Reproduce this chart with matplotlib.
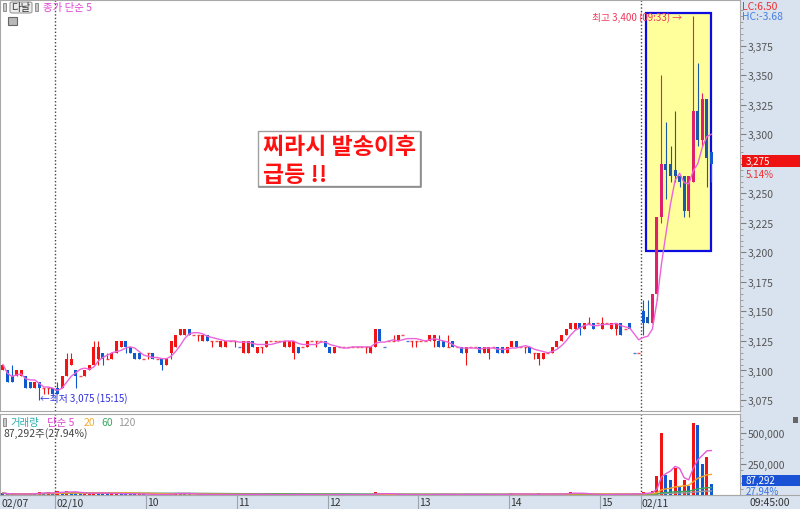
import matplotlib
matplotlib.use("Agg")
import matplotlib.pyplot as plt
import matplotlib.patches as mpatches
from matplotlib.lines import Line2D
from matplotlib.transforms import blended_transform_factory
import numpy as np
import pandas as pd

plt.rcParams['font.family'] = ['Noto Sans CJK KR', 'DejaVu Sans']

# 3-minute candles: tail of 02/07, full session 02/10, 02/11 09:00~09:45
opens = [
    3100, 3100, 3095, 3095, 3095, 3095, 3090, 3085, 3090, 3085,
    3085, 3085, 3085, 3085, 3095, 3105, 3100, 3095, 3095, 3100,
    3105, 3110, 3115, 3110, 3110, 3115, 3120, 3125, 3120, 3115,
    3115, 3110, 3115, 3115, 3110, 3110, 3105, 3115, 3120, 3130,
    3130, 3135, 3130, 3130, 3125, 3130, 3125, 3125, 3120, 3120,
    3125, 3125, 3120, 3115, 3115, 3125, 3115, 3120, 3120, 3125,
    3125, 3125, 3120, 3120, 3115, 3120, 3120, 3120, 3125, 3125,
    3125, 3125, 3120, 3115, 3120, 3120, 3120, 3120, 3120, 3120,
    3120, 3115, 3120, 3135, 3120, 3125, 3125, 3125, 3130, 3125,
    3125, 3125, 3125, 3125, 3125, 3125, 3125, 3125, 3120, 3125,
    3120, 3120, 3115, 3120, 3120, 3120, 3115, 3115, 3120, 3120,
    3120, 3115, 3120, 3125, 3120, 3120, 3120, 3115, 3110, 3110,
    3115, 3115, 3120, 3125, 3130, 3135, 3135, 3140, 3135, 3140,
    3140, 3140, 3135, 3140, 3135, 3135, 3140, 3135, 3140, 3115,
    3115, 3150, 3145, 3140, 3165, 3230, 3275, 3275, 3270, 3265,
    3265, 3235, 3260, 3320, 3295, 3330, 3285,
]
highs = [
    3105, 3100, 3105, 3100, 3100, 3095, 3090, 3090, 3090, 3085,
    3085, 3085, 3090, 3095, 3115, 3115, 3100, 3095, 3100, 3105,
    3125, 3125, 3115, 3115, 3115, 3125, 3125, 3125, 3120, 3115,
    3115, 3110, 3115, 3115, 3110, 3110, 3110, 3125, 3130, 3135,
    3135, 3135, 3130, 3130, 3130, 3130, 3125, 3125, 3125, 3125,
    3125, 3125, 3120, 3125, 3125, 3125, 3120, 3120, 3125, 3125,
    3125, 3125, 3125, 3125, 3125, 3120, 3120, 3125, 3125, 3125,
    3125, 3125, 3120, 3120, 3120, 3120, 3120, 3120, 3120, 3120,
    3120, 3120, 3135, 3135, 3120, 3125, 3130, 3130, 3130, 3125,
    3125, 3125, 3125, 3125, 3130, 3130, 3130, 3125, 3130, 3125,
    3120, 3120, 3120, 3120, 3120, 3120, 3120, 3120, 3120, 3120,
    3120, 3120, 3125, 3125, 3120, 3120, 3120, 3115, 3115, 3115,
    3115, 3120, 3125, 3130, 3135, 3140, 3140, 3140, 3140, 3145,
    3140, 3140, 3145, 3140, 3140, 3140, 3140, 3135, 3140, 3115,
    3115, 3160, 3160, 3165, 3230, 3350, 3310, 3290, 3320, 3265,
    3265, 3265, 3400, 3360, 3335, 3330, 3285,
]
lows = [
    3100, 3090, 3090, 3095, 3095, 3085, 3085, 3085, 3075, 3080,
    3080, 3080, 3080, 3085, 3095, 3105, 3085, 3095, 3095, 3100,
    3105, 3105, 3105, 3110, 3110, 3115, 3120, 3115, 3115, 3110,
    3110, 3110, 3110, 3110, 3110, 3100, 3105, 3110, 3120, 3130,
    3130, 3130, 3130, 3125, 3125, 3125, 3120, 3125, 3120, 3120,
    3125, 3120, 3120, 3115, 3115, 3120, 3115, 3115, 3120, 3125,
    3125, 3125, 3120, 3120, 3110, 3115, 3120, 3120, 3125, 3120,
    3125, 3120, 3115, 3115, 3120, 3120, 3120, 3120, 3120, 3120,
    3115, 3115, 3120, 3125, 3120, 3125, 3125, 3125, 3130, 3125,
    3120, 3120, 3125, 3125, 3125, 3120, 3120, 3120, 3120, 3120,
    3120, 3115, 3105, 3120, 3120, 3115, 3115, 3110, 3120, 3115,
    3115, 3115, 3120, 3120, 3120, 3115, 3115, 3110, 3105, 3110,
    3115, 3115, 3120, 3125, 3130, 3135, 3135, 3130, 3135, 3140,
    3135, 3140, 3135, 3140, 3135, 3130, 3130, 3135, 3135, 3115,
    3115, 3130, 3140, 3140, 3160, 3225, 3245, 3260, 3260, 3255,
    3230, 3230, 3260, 3290, 3290, 3255, 3260,
]
closes = [
    3105, 3090, 3090, 3100, 3100, 3085, 3085, 3090, 3085, 3085,
    3085, 3080, 3080, 3095, 3110, 3110, 3095, 3095, 3100, 3105,
    3120, 3120, 3110, 3110, 3115, 3125, 3125, 3120, 3115, 3110,
    3110, 3110, 3115, 3110, 3110, 3105, 3110, 3125, 3130, 3135,
    3135, 3130, 3130, 3130, 3130, 3125, 3125, 3125, 3125, 3125,
    3125, 3125, 3120, 3125, 3125, 3120, 3120, 3120, 3125, 3125,
    3125, 3125, 3125, 3125, 3125, 3115, 3120, 3125, 3125, 3125,
    3125, 3120, 3115, 3120, 3120, 3120, 3120, 3120, 3120, 3120,
    3120, 3120, 3135, 3125, 3120, 3125, 3125, 3130, 3130, 3125,
    3125, 3125, 3125, 3125, 3130, 3130, 3120, 3120, 3120, 3120,
    3120, 3115, 3120, 3120, 3120, 3115, 3120, 3120, 3120, 3115,
    3115, 3120, 3125, 3120, 3120, 3120, 3115, 3115, 3115, 3115,
    3115, 3120, 3125, 3130, 3135, 3140, 3140, 3135, 3140, 3140,
    3135, 3140, 3140, 3140, 3140, 3140, 3130, 3135, 3135, 3115,
    3115, 3140, 3140, 3165, 3230, 3275, 3270, 3265, 3265, 3260,
    3235, 3265, 3320, 3295, 3330, 3280, 3275,
]
volumes = [
    15000, 6000, 8000, 5000, 4000, 18000, 12000, 9000, 22000, 16000,
    24000, 9000, 30000, 26000, 35000, 22000, 14000, 9000, 12000, 15000,
    25000, 18000, 9000, 6000, 8000, 16000, 12000, 10000, 7000, 6000,
    9000, 5000, 4000, 3000, 2000, 6000, 8000, 14000, 20000, 12000,
    10000, 6000, 3000, 2000, 7000, 5000, 3000, 2000, 6000, 4000,
    2000, 3000, 2000, 9000, 7000, 3000, 5000, 2000, 4000, 2000,
    1000, 1000, 3000, 5000, 8000, 4000, 2000, 3000, 1000, 2000,
    1000, 4000, 5000, 1000, 1000, 2000, 1000, 1000, 2000, 1000,
    1000, 3000, 25000, 18000, 4000, 2000, 2000, 6000, 2000, 1000,
    2000, 3000, 2000, 1000, 5000, 6000, 7000, 4000, 2000, 3000,
    1000, 6000, 12000, 2000, 1000, 4000, 3000, 7000, 2000, 5000,
    4000, 3000, 20000, 9000, 2000, 3000, 5000, 6000, 14000, 8000,
    2000, 6000, 9000, 12000, 15000, 22000, 14000, 9000, 7000, 3000,
    5000, 2000, 6000, 2000, 7000, 8000, 10000, 2000, 4000, 18000,
    9000, 22000, 16000, 30000, 156000, 500000, 160000, 121000, 218000, 75000,
    123000, 75000, 580000, 565000, 250000, 309000, 87292,
]

date_labels = ['02/07', '02/10', '10', '11', '12', '13', '14', '15', '02/11']
date_label_idx = [0, 12, 32, 52, 72, 92, 112, 132, 141]
day_breaks = [11.5, 140.5]
price_ticks = list(range(3075, 3400, 25))
vol_ticks = [250000, 500000]
vol_ma_periods = [5, 20, 60, 120]
vol_ma_colors = ['#e45ad8', '#f2a62a', '#3aa860', '#9a9a9a']

W, H = 800, 510
RED, BLUE = '#f01414', '#1058d0'
RED_BOX, BLUE_BOX = '#e0206a', '#1c5aa8'
PANEL = '#d9e3ef'
GRID = '#a8a8a8'
LAST_PRICE = closes[-1]


def fx(px):
    return px / W


def fy(py):
    return 1 - py / H


fig = plt.figure(figsize=(W / 100, H / 100), dpi=100)
fig.patch.set_facecolor('white')

# right scale panel + date strip background
fig.add_artist(mpatches.Rectangle((fx(740), 0), 1 - fx(740), 1, transform=fig.transFigure,
                                  fc=PANEL, ec='none', zorder=-2))
fig.add_artist(mpatches.Rectangle((0, 0), 1, fy(496), transform=fig.transFigure,
                                  fc=PANEL, ec='none', zorder=-2))

ax = fig.add_axes([0, fy(412), fx(740), fy(1) - fy(412)])
axv = fig.add_axes([0, fy(496), fx(740), fy(415) - fy(496)])

n = len(closes)
x = np.arange(n)
o, h, l, c = (np.array(a, dtype=float) for a in (opens, highs, lows, closes))
v = np.array(volumes, dtype=float)

box_l, box_r, box_b, box_t = 141.55, 155.9, 3201, 3403

prev_c = np.r_[c[0], c[:-1]]
is_up = (c > o) | ((c == o) & (c >= prev_c))
in_box = (x > box_l) & (x < box_r)
cols = np.where(in_box, np.where(is_up, RED_BOX, BLUE_BOX), np.where(is_up, RED, BLUE))

# highlighted box
ax.add_patch(mpatches.Rectangle((box_l, box_b), box_r - box_l, box_t - box_b,
                                fc='#ffff9c', ec='#0c0ce0', lw=1.6, zorder=2))

# candles
ax.vlines(x, l, h, colors=cols, lw=0.8, zorder=3)
body = c != o
ax.bar(x[body], np.abs(c - o)[body], bottom=np.minimum(o, c)[body], width=0.66,
       color=cols[body], lw=0, zorder=3)
flat = ~body
ax.hlines(c[flat], x[flat] - 0.33, x[flat] + 0.33, colors=cols[flat], lw=1.0,
          alpha=0.75, zorder=3)

ma5 = pd.Series(c).rolling(5, min_periods=1).mean()
ax.plot(x, ma5, color='#ec64da', lw=1.0, zorder=4)

for b in day_breaks:
    ax.axvline(b, color='#444444', lw=1.0, ls=(0, (1, 1.5)), zorder=1)
    axv.axvline(b, color='#444444', lw=1.0, ls=(0, (1, 1.5)), zorder=1)

ax.set_xlim(-0.66, 162.3)
ax.set_ylim(3065.7, 3413.7)
ax.set_xticks([])
ax.yaxis.tick_right()
ax.set_yticks(price_ticks)
# the last-price tag covers its own tick label
ax.set_yticklabels(['' if t == LAST_PRICE else f'{t:,}' for t in price_ticks])
ax.set_yticks(list(range(3070, 3410, 5)), minor=True)
ax.tick_params(axis='y', which='major', direction='out', length=4, width=0.8,
               color='#808080', labelcolor='#555555', labelsize=7.5, pad=1.5)
ax.tick_params(axis='y', which='minor', direction='out', length=2, width=0.6, color='#909090')
for s in ax.spines.values():
    s.set_color(GRID)

ax.text(149.6, 3400, '최고 3,400 (09:33) →', ha='right', va='center',
        color='#f0385a', fontsize=7, zorder=6)
ax.text(8.15, 3077.5, '←최저 3,075 (15:15)', ha='left', va='center',
        color='#3030dd', fontsize=7, zorder=6)

# volume panel
vprev = np.r_[v[0], v[:-1]]
vcols = np.where(v > vprev, RED, BLUE)
axv.bar(x, v, width=0.66, color=vcols, lw=0, zorder=3)
for p, col in zip(vol_ma_periods[::-1], vol_ma_colors[::-1]):
    axv.plot(x, pd.Series(v).rolling(p, min_periods=1).mean(), color=col, lw=1.0, zorder=4)

axv.set_xlim(-0.66, 162.3)
axv.set_ylim(0, 653000)
axv.set_xticks([])
axv.yaxis.tick_right()
axv.set_yticks(vol_ticks)
axv.set_yticklabels([f'{t:,}' for t in vol_ticks])
axv.set_yticks(list(range(50000, 650000, 50000)), minor=True)
axv.tick_params(axis='y', which='major', direction='out', length=4, width=0.8,
                color='#808080', labelcolor='#555555', labelsize=7.5, pad=1.5)
axv.tick_params(axis='y', which='minor', direction='out', length=2, width=0.6, color='#909090')
for s in axv.spines.values():
    s.set_color(GRID)

# date strip
bt = blended_transform_factory(axv.transData, fig.transFigure)
fig.add_artist(Line2D([0, 1], [fy(496), fy(496)], transform=fig.transFigure, color=GRID, lw=0.8))
for lbl, idx in zip(date_labels, date_label_idx):
    if idx > 0:
        fig.add_artist(Line2D([idx - 0.5, idx - 0.5], [0, fy(496)], transform=bt,
                              color='#9aa4b0', lw=0.8))
    fig.text(idx - 0.3, fy(503.5), lbl, transform=bt, ha='left', va='center',
             fontsize=7.5, color='#333333')
fig.text(fx(750), fy(503.5), '09:45:00', ha='left', va='center', fontsize=7.5, color='#333333')

# header of price panel
fig.add_artist(mpatches.Rectangle((fx(3), fy(12)), fx(3), 8 / H, transform=fig.transFigure,
                                  fc='#c8c8c8', ec='#808080', lw=0.6))
fig.add_artist(mpatches.FancyBboxPatch((fx(10), fy(14)), fx(22), 11 / H, transform=fig.transFigure,
                                       boxstyle='round,pad=0,rounding_size=0.003',
                                       fc='#ececec', ec='#9a9a9a', lw=0.8))
fig.text(fx(21), fy(8), '다날', ha='center', va='center', fontsize=7.5, color='#333333')
fig.add_artist(mpatches.Rectangle((fx(35), fy(12)), fx(3), 8 / H, transform=fig.transFigure,
                                  fc='#c8c8c8', ec='#808080', lw=0.6))
fig.text(fx(43), fy(8), '종가 단순 5', ha='left', va='center', fontsize=7.5, color='#e046d2')
fig.add_artist(mpatches.Rectangle((fx(8), fy(26)), fx(9), 8 / H, transform=fig.transFigure,
                                  fc='#b8b8b8', ec='#666666', lw=0.8))

fig.text(fx(742), fy(6.5), 'LC:6.50', ha='left', va='center', fontsize=7.5, color='#ee3030')
fig.text(fx(742), fy(17.5), 'HC:-3.68', ha='left', va='center', fontsize=7.5, color='#4a7ee0')

# current price tag
fig.add_artist(mpatches.Rectangle((fx(742), fy(167.5)), 1 - fx(742), 11 / H, transform=fig.transFigure,
                                  fc='#ee1212', ec='none', zorder=5))
fig.text(fx(746), fy(162), f'{LAST_PRICE:,}', ha='left', va='center', fontsize=7,
         color='white', zorder=6)
fig.text(fx(746), fy(175), '5.14%', ha='left', va='center', fontsize=7, color='#e83030')

# annotation box
fig.add_artist(mpatches.Rectangle((fx(258), fy(187)), fx(162), 55 / H, transform=fig.transFigure,
                                  fc='white', ec='#a0a0a0', lw=1.0, zorder=5))
fig.add_artist(Line2D([fx(259), fx(421), fx(421)], [fy(188), fy(188), fy(133)],
                      transform=fig.transFigure, color='#8c8c8c', lw=1.2, zorder=5))
fig.text(fx(263), fy(148), '찌라시 발송이후', ha='left', va='center', fontsize=16.5,
         fontweight='bold', color='#ff1010', zorder=6)
fig.text(fx(263), fy(175), '급등 !!', ha='left', va='center', fontsize=16.5,
         fontweight='bold', color='#ff1010', zorder=6)

# volume header
fig.add_artist(mpatches.Rectangle((fx(3), fy(427)), fx(3), 8 / H, transform=fig.transFigure,
                                  fc='#c8c8c8', ec='#808080', lw=0.6))
hx = [10, 47, 84, 101, 118]
htxt = ['거래량', '단순 5', '20', '60', '120']
hcol = ['#2aaeae', '#e046d2', '#f2aa30', '#3aa860', '#999999']
for px_, t, col in zip(hx, htxt, hcol):
    fig.text(fx(px_), fy(423), t, ha='left', va='center', fontsize=7.5, color=col)
fig.text(fx(3), fy(434), '87,292주(27.94%)', ha='left', va='center', fontsize=7.5, color='#444444')
fig.add_artist(mpatches.Rectangle((fx(793), fy(424)), fx(5), 6 / H, transform=fig.transFigure,
                                  fc='#666666', ec='none'))

fig.add_artist(mpatches.Rectangle((fx(742), fy(486.5)), 1 - fx(742), 11 / H, transform=fig.transFigure,
                                  fc='#1a52d6', ec='none', zorder=5))
fig.text(fx(746), fy(481), f'{volumes[-1]:,}', ha='left', va='center', fontsize=7,
         color='white', zorder=6)
fig.text(fx(746), fy(492), '27.94%', ha='left', va='center', fontsize=7, color='#3a72e0')

fig.savefig('out.png', dpi=100)
